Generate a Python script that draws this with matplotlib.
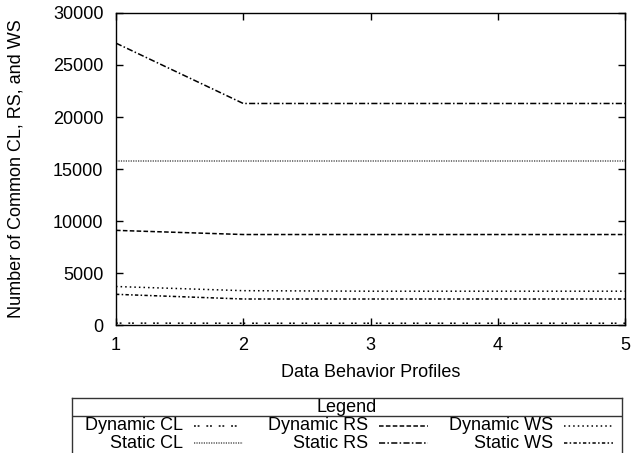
import matplotlib
matplotlib.use("Agg")
import matplotlib.pyplot as plt
from matplotlib.lines import Line2D

plt.rcParams['font.family'] = ['Liberation Sans', 'DejaVu Sans']

profiles = [1, 2, 3, 4, 5]
dynamic_cl = [180, 170, 170, 170, 170]
dynamic_rs = [9100, 8700, 8700, 8700, 8700]
dynamic_ws = [3700, 3300, 3250, 3250, 3250]
static_cl = [15800, 15800, 15800, 15800, 15800]
static_rs = [27100, 21300, 21300, 21300, 21300]
static_ws = [2950, 2500, 2500, 2500, 2500]

series_names = ["Dynamic CL", "Dynamic RS", "Dynamic WS",
                "Static CL", "Static RS", "Static WS"]
series_vals = [dynamic_cl, dynamic_rs, dynamic_ws, static_cl, static_rs, static_ws]
styles = [
    dict(color='black', dashes=(1.2, 1.2, 1.2, 4.5)),
    dict(color='black', dashes=(3, 1.5)),
    dict(color='black', dashes=(1, 2)),
    dict(color='#555555', dashes=(0.8, 0.8)),
    dict(color='black', dashes=(4, 1.5, 1, 1.5)),
    dict(color='black', dashes=(2.2, 1.5, 1, 1.5)),
]

W, H = 632, 453
fig = plt.figure(figsize=(W / 100, H / 100), dpi=100)
FS = 13

ax = fig.add_axes([116 / W, (H - 325) / H, (625 - 116) / W, (325 - 13) / H])
for name, vals, st in zip(series_names, series_vals, styles):
    ax.plot(profiles, vals, lw=1.1, label=name, **st)

ax.set_xlim(1, 5)
ax.set_ylim(0, 30000)
ax.set_xticks(profiles)
ax.set_yticks(range(0, 30001, 5000))
ax.tick_params(direction='in', top=True, right=True, length=5, width=1,
               labelsize=FS)
ax.tick_params(axis='y', pad=9)
ax.tick_params(axis='x', pad=9)
for s in ax.spines.values():
    s.set_linewidth(1)
ax.set_xlabel("Data Behavior Profiles", fontsize=FS)
ax.set_ylabel("Number of Common CL, RS, and WS", fontsize=FS)
ax.xaxis.set_label_coords(0.5, -0.125)
ax.yaxis.set_label_coords(-0.18, 0.5)

# Legend box (gnuplot style)
lx0, lx1, ly0, ly1 = 72, 622, 398, 462
lax = fig.add_axes([lx0 / W, (H - ly1) / H, (lx1 - lx0) / W, (ly1 - ly0) / H])
lax.set_xlim(lx0, lx1)
lax.set_ylim(ly1, ly0)
lax.set_xticks([])
lax.set_yticks([])
for s in lax.spines.values():
    s.set_linewidth(1)
    s.set_color('#333333')
lax.text((lx0 + lx1) / 2, 407, "Legend", ha='center', va='center', fontsize=FS)
lax.axhline(416, color='#333333', lw=1)
col_text_right = [183, 368, 553]
row_y = [426, 443]
for i, (name, st) in enumerate(zip(series_names, styles)):
    r, c = divmod(i, 3)
    xr = col_text_right[c]
    y = row_y[r]
    lax.text(xr, y, name, ha='right', va='center', fontsize=FS)
    lax.add_line(Line2D([xr + 11, xr + 60], [y, y], lw=1.1, **st))

fig.savefig("out.png", dpi=100)
